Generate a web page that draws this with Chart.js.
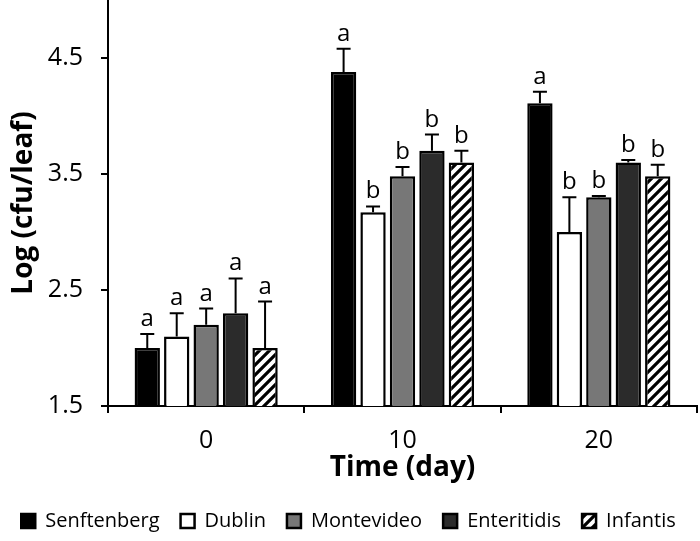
<!DOCTYPE html>
<html>
<head>
<meta charset="utf-8">
<script src="https://cdn.jsdelivr.net/npm/chart.js@4.4.0/dist/chart.umd.min.js"></script>
<style>
  html, body { margin: 0; padding: 0; background: #fff; }
</style>
</head>
<body>
<canvas id="chart" width="700" height="541"></canvas>
<script>
const days = ['0', '10', '20'];
const yTicks = [1.5, 2.5, 3.5, 4.5];

// means (log cfu/leaf) per strain at day 0, 10, 20
const senftenberg = [2.00, 4.38, 4.11];
const dublin      = [2.10, 3.17, 3.00];
const montevideo  = [2.20, 3.48, 3.30];
const enteritidis = [2.30, 3.70, 3.60];
const infantis    = [2.00, 3.60, 3.48];

// upper error bars
const senftenbergErr = [0.12, 0.20, 0.10];
const dublinErr      = [0.20, 0.05, 0.30];
const montevideoErr  = [0.14, 0.08, 0.01];
const enteritidisErr = [0.30, 0.14, 0.02];
const infantisErr    = [0.40, 0.10, 0.10];

// significance letters
const senftenbergLet = ['a', 'a', 'a'];
const dublinLet      = ['a', 'b', 'b'];
const montevideoLet  = ['a', 'b', 'b'];
const enteritidisLet = ['a', 'b', 'b'];
const infantisLet    = ['a', 'b', 'b'];

const FONT = 'Open Sans';

// diagonal hatch for Infantis
function makeHatch() {
    const c = document.createElement('canvas');
    c.width = 10; c.height = 10;
    const g = c.getContext('2d');
    g.fillStyle = '#fff';
    g.fillRect(0, 0, 10, 10);
    g.strokeStyle = '#000';
    g.lineWidth = 3.2;
    g.beginPath();
    g.moveTo(-2, 12); g.lineTo(12, -2);
    g.moveTo(-2, 2); g.lineTo(2, -2);
    g.moveTo(8, 12); g.lineTo(12, 8);
    g.stroke();
    return g.createPattern(c, 'repeat');
}

function series(label, data, errors, letters, fill) {
    return {
        label: label,
        data: data,
        errors: errors,
        letters: letters,
        backgroundColor: fill,
        borderColor: '#000',
        borderWidth: 2.5,
        categoryPercentage: 0.75,
        barPercentage: 0.86
    };
}

// error bars + letters drawn on top of bars
const errorBars = {
    id: 'errorBars',
    afterDatasetsDraw(chart) {
        const ctx = chart.ctx;
        const yScale = chart.scales.y;
        chart.data.datasets.forEach((ds, i) => {
            const meta = chart.getDatasetMeta(i);
            meta.data.forEach((bar, j) => {
                const top = yScale.getPixelForValue(ds.data[j] + ds.errors[j]);
                ctx.save();
                ctx.strokeStyle = '#000';
                ctx.lineWidth = 2;
                ctx.beginPath();
                ctx.moveTo(bar.x, bar.y);
                ctx.lineTo(bar.x, top);
                ctx.moveTo(bar.x - 7, top);
                ctx.lineTo(bar.x + 7, top);
                ctx.stroke();
                ctx.fillStyle = '#000';
                ctx.font = '24px "' + FONT + '"';
                ctx.textAlign = 'center';
                ctx.textBaseline = 'alphabetic';
                ctx.fillText(ds.letters[j], bar.x, top - 8);
                ctx.restore();
            });
        });
    }
};

const ctx = document.getElementById('chart').getContext('2d');
new Chart(ctx, {
    type: 'bar',
    data: {
        labels: days,
        datasets: [
            series('Senftenberg', senftenberg, senftenbergErr, senftenbergLet, '#000000'),
            series('Dublin', dublin, dublinErr, dublinLet, '#ffffff'),
            series('Montevideo', montevideo, montevideoErr, montevideoLet, '#777777'),
            series('Enteritidis', enteritidis, enteritidisErr, enteritidisLet, '#2b2b2b'),
            series('Infantis', infantis, infantisErr, infantisLet, makeHatch())
        ]
    },
    options: {
        responsive: false,
        animation: false,
        layout: { padding: { top: 0, right: 3, bottom: 0, left: 0 } },
        plugins: {
            tooltip: { enabled: false },
            legend: {
                position: 'bottom',
                labels: {
                    color: '#000',
                    boxWidth: 14,
                    boxHeight: 14,
                    padding: 21,
                    font: { family: FONT, size: 20 }
                }
            }
        },
        scales: {
            x: {
                grid: { drawOnChartArea: false, tickLength: 7, color: '#000', lineWidth: 2, offset: true },
                border: { color: '#000', width: 2 },
                ticks: { color: '#000', padding: 13, font: { family: FONT, size: 25 } },
                title: {
                    display: true,
                    text: 'Time (day)',
                    color: '#000',
                    padding: { top: 0, bottom: 5 },
                    font: { family: FONT, size: 28, weight: 'bold' }
                },
                afterFit(scale) { scale.height = 84; }
            },
            y: {
                min: 1.5,
                max: 5.0,
                afterBuildTicks(scale) { scale.ticks = yTicks.map(v => ({ value: v })); },
                grid: { drawOnChartArea: false, tickLength: 7, color: '#000', lineWidth: 2 },
                border: { color: '#000', width: 2 },
                ticks: {
                    color: '#000',
                    padding: 18,
                    font: { family: FONT, size: 25 },
                    callback: v => v.toFixed(1)
                },
                title: {
                    display: true,
                    text: 'Log (cfu/leaf)',
                    color: '#000',
                    padding: { top: 7, bottom: 0 },
                    font: { family: FONT, size: 28, weight: 'bold' }
                },
                afterFit(scale) {
                    scale.width = 108;
                    scale.paddingTop = 0;
                    scale.paddingBottom = 0;
                }
            }
        }
    },
    plugins: [errorBars]
});
</script>
</body>
</html>
